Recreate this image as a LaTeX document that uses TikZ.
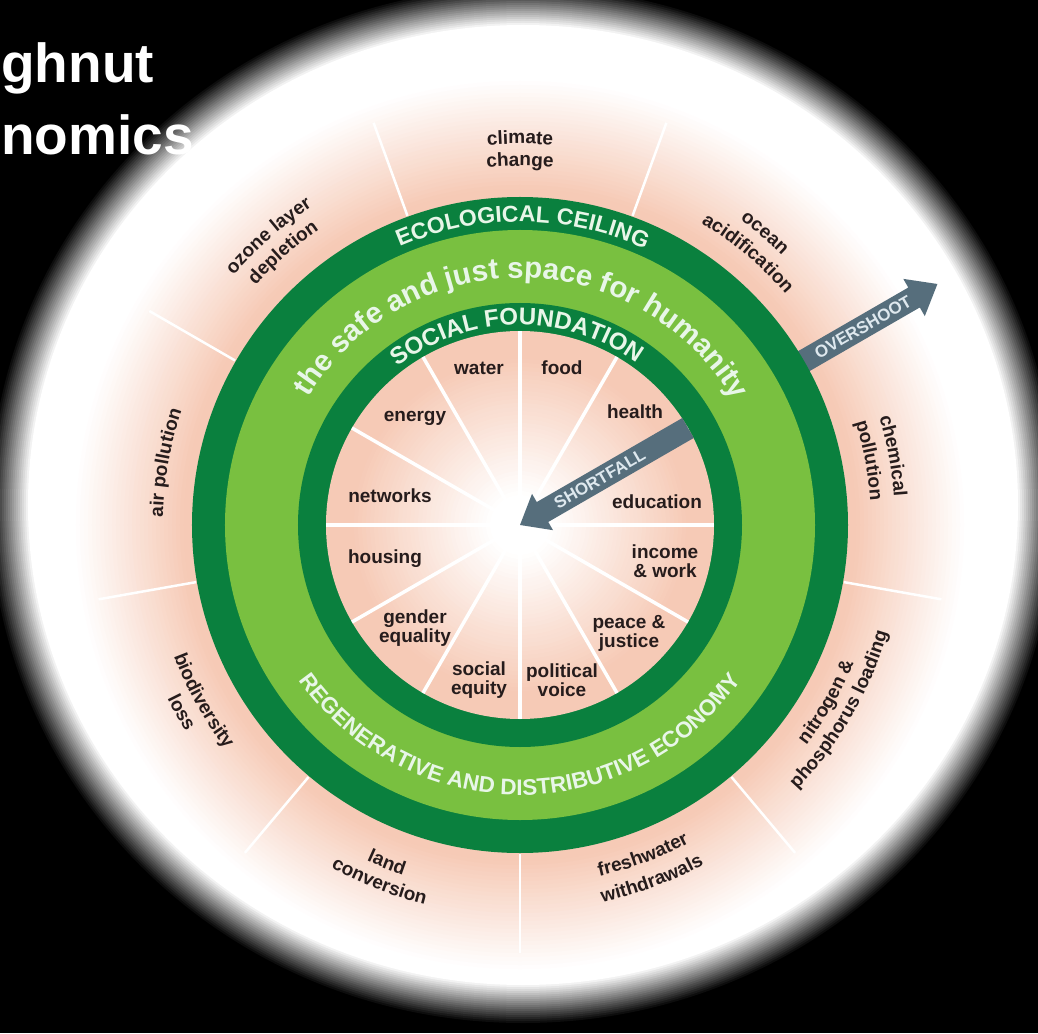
\documentclass[tikz,border=0pt]{standalone}
\usepackage{fontspec}
\setmainfont{Liberation Sans}
\usetikzlibrary{decorations.text}
\definecolor{dkgreen}{RGB}{10,128,62}
\definecolor{ltgreen}{RGB}{121,192,64}
\definecolor{pinkc}{RGB}{246,202,182}
\definecolor{arrowc}{RGB}{86,110,124}
\definecolor{ringtxt}{RGB}{232,246,232}
\definecolor{labtxt}{RGB}{38,28,28}
\definecolor{arrtxt}{RGB}{222,232,238}
\newcommand\labfont{\bfseries\fontsize{19}{21}\selectfont}
\newcommand\ringA{\bfseries\fontsize{23}{23}\selectfont}
\newcommand\ringB{\bfseries\fontsize{29.5}{30}\selectfont}
\newcommand\ringC{\bfseries\fontsize{24}{24}\selectfont}
\newcommand\ringD{\bfseries\fontsize{22.5}{23}\selectfont}
\newcommand\cwtext[5]{%
  \path[decorate,decoration={text along path,text align=center,text color=#4,text={|#3|#5}}]
    ({#1+70}:#2) arc[start angle={#1+70},end angle={#1-70},radius=#2];}
\newcommand\ccwtext[5]{%
  \path[decorate,decoration={text along path,text align=center,text color=#4,text={|#3|#5}}]
    ({#1-70}:#2) arc[start angle={#1-70},end angle={#1+70},radius=#2];}
\begin{document}
\begin{tikzpicture}[x=1pt,y=1pt,
  innerlab/.style={font=\bfseries\fontsize{19}{19}\selectfont, text=labtxt, align=center, inner sep=0pt},
  arrowlab/.style={font=\bfseries\fontsize{17}{17}\selectfont, text=arrtxt, inner sep=0pt},
  titlelab/.style={font=\bfseries\fontsize{55}{55}\selectfont, text=white, inner sep=0pt, anchor=base west},
  spokeout/.style={white, line width=2.5pt},
  spokein/.style={white, line width=3.5pt},
  arrowbody/.style={fill=arrowc}]
\useasboundingbox (-520,-508) rectangle (518,525);
\fill[black] (-520,-508) rectangle (518,525);
% vignette
\foreach \k in {0,...,20} {
  \pgfmathtruncatemacro\p{5*\k}
  \fill[white!\p!black] (3,20) ellipse[x radius={535-2*\k}, y radius={520-2*\k}];
}
% outer pink gradient
\foreach \r in {448,444,...,332} {
  \pgfmathtruncatemacro\p{min(100,max(0,(448-\r)/1.1))}
  \fill[pinkc!\p!white] (0,0) circle (\r);
}
% outer spokes
\foreach \a in {110,70,30,-10,-50,-90,-130,-170,150}
  \draw[spokeout] (\a:329) -- (\a:428);
% overshoot arrow
\begin{scope}[rotate=30]
  \fill[arrowbody] (300,-11.5) -- (455,-11.5) -- (455,-21.5) -- (482,0) -- (455,21.5) -- (455,11.5) -- (300,11.5) -- cycle;
\end{scope}
% rings
\fill[dkgreen] (0,0) circle (328);
\fill[ltgreen] (0,0) circle (295);
\fill[dkgreen] (0,0) circle (222);
\foreach \r in {194,190,...,2} {
  \pgfmathtruncatemacro\p{min(100,max(0,(\r-30)/1.4))}
  \fill[pinkc!\p!white] (0,0) circle (\r);
}
% inner spokes
\foreach \a in {0,30,...,330}
  \draw[spokein] (0,0) -- (\a:194);
% shortfall arrow
\begin{scope}[rotate=30]
  \fill[arrowbody] (194,-11.5) -- (26,-11.5) -- (26,-21) -- (0,0) -- (26,21) -- (26,11.5) -- (194,11.5) -- cycle;
\end{scope}
\node[arrowlab, rotate=30] (over) at (30:396) {OVERSHOOT};
\node[arrowlab, rotate=30] (short) at (30:92) {SHORTFALL};
% ring texts
\cwtext{89.5}{303}{\ringA}{ringtxt}{ECOLOGICAL CEILING}
\cwtext{89.5}{247}{\ringB}{ringtxt}{the safe and just space for humanity}
\cwtext{91}{200}{\ringC}{ringtxt}{SOCIAL FOUNDATION}
\ccwtext{-90}{270}{\ringD}{ringtxt}{REGENERATIVE AND DISTRIBUTIVE ECONOMY}
% outer labels (planetary boundaries), curved along the circle
\cwtext{90}{381}{\labfont}{labtxt}{climate}
\cwtext{90}{359}{\labfont}{labtxt}{change}
\cwtext{131}{380}{\labfont}{labtxt}{ozone layer}
\cwtext{131}{357}{\labfont}{labtxt}{depletion}
\cwtext{50}{376}{\labfont}{labtxt}{ocean}
\cwtext{50}{352}{\labfont}{labtxt}{acidification}
\cwtext{10.5}{375}{\labfont}{labtxt}{chemical}
\cwtext{10.5}{351}{\labfont}{labtxt}{pollution}
\cwtext{170}{357}{\labfont}{labtxt}{air pollution}
\ccwtext{-30}{361}{\labfont}{labtxt}{nitrogen {\&}}
\ccwtext{-30}{383}{\labfont}{labtxt}{phosphorus loading}
\ccwtext{-69.6}{360}{\labfont}{labtxt}{freshwater}
\ccwtext{-69.6}{386}{\labfont}{labtxt}{withdrawals}
\ccwtext{-111.5}{369}{\labfont}{labtxt}{land}
\ccwtext{-111.5}{391}{\labfont}{labtxt}{conversion}
\ccwtext{-151}{370}{\labfont}{labtxt}{biodiversity}
\ccwtext{-151}{393}{\labfont}{labtxt}{loss}
% inner labels (social foundation)
\node[innerlab] (water) at (-41,157) {water};
\node[innerlab] (food) at (42,157) {food};
\node[innerlab] (health) at (115,113) {health};
\node[innerlab] (energy) at (-105,107) {energy};
\node[innerlab] (networks) at (-130,29) {networks};
\node[innerlab] (education) at (137,23) {education};
\node[innerlab] (housing) at (-135,-34) {housing};
\node[innerlab] (income) at (145,-36) {income\\\& work};
\node[innerlab] (gender) at (-105,-103) {gender\\equality};
\node[innerlab] (peace) at (109,-108) {peace \&\\justice};
\node[innerlab] (social) at (-41,-155) {social\\equity};
\node[innerlab] (political) at (42,-155) {political\\voice};
% title fragments
\node[titlelab] (t1) at (-519,442) {ghnut};
\node[titlelab] (t2) at (-519,370) {nomics};
\end{tikzpicture}
\end{document}
